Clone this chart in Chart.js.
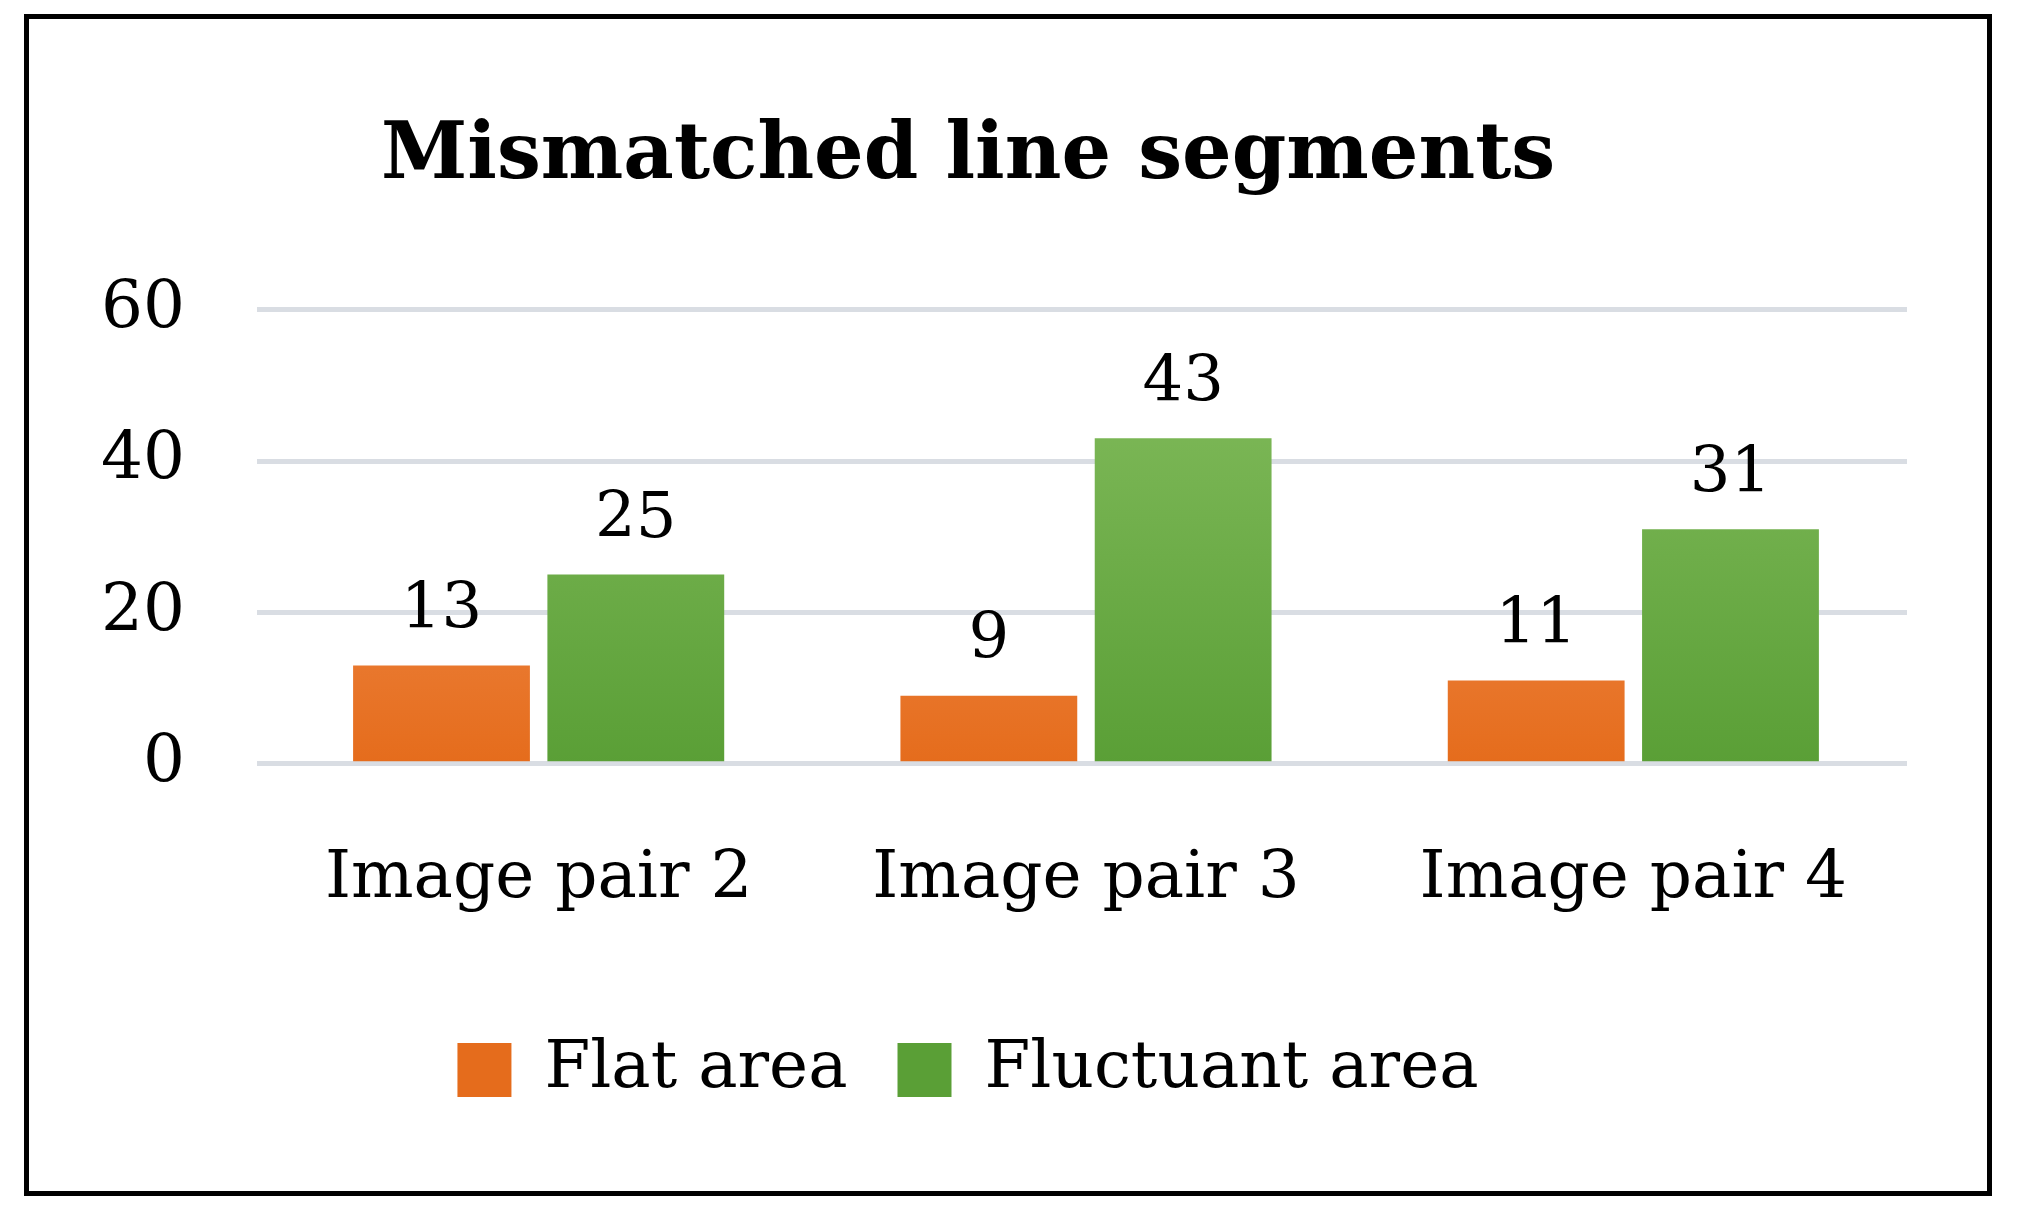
<!DOCTYPE html>
<html>
<head>
<meta charset="UTF-8">
<title>Mismatched line segments</title>
<style>
    body { margin: 0; background: #fff; }
    .frame {
        position: absolute; left: 24px; top: 14px; width: 1968px; height: 1182px;
        border: 5px solid #000; box-sizing: border-box; background: #fff;
    }
    .frame canvas { display: block; }
</style>
</head>
<body>
<div class="frame"><canvas id="chart" width="1958" height="1172"></canvas></div>
<script src="https://cdn.jsdelivr.net/npm/chart.js"></script>
<script>
const categories = ['Image pair 2', 'Image pair 3', 'Image pair 4'];
const flatArea = [13, 9, 11];
const fluctuantArea = [25, 43, 31];
const yTicks = [0, 20, 40, 60];

const serif = '"Palatino Linotype", "DejaVu Serif", "Liberation Serif", serif';

// vertical gradient over the plot area, lighter on top
function barGradient(top, bottom) {
    return function (context) {
        const area = context.chart.chartArea;
        if (!area) return bottom;
        const g = context.chart.ctx.createLinearGradient(0, area.top, 0, area.bottom);
        g.addColorStop(0, top);
        g.addColorStop(1, bottom);
        return g;
    };
}

// value labels above each bar
const valueLabels = {
    id: 'valueLabels',
    afterDatasetsDraw(chart) {
        const ctx = chart.ctx;
        ctx.save();
        ctx.font = '64px ' + serif;
        ctx.fillStyle = '#000';
        ctx.textAlign = 'center';
        ctx.textBaseline = 'bottom';
        chart.data.datasets.forEach((ds, i) => {
            chart.getDatasetMeta(i).data.forEach((bar, j) => {
                ctx.fillText(ds.data[j], bar.x, bar.y - 22);
            });
        });
        ctx.restore();
    }
};

new Chart(document.getElementById('chart'), {
    type: 'bar',
    data: {
        labels: categories,
        datasets: [
            {
                label: 'Flat area',
                data: flatArea,
                backgroundColor: barGradient('#f6a06a', '#e56c1c'),
                categoryPercentage: 0.71,
                barPercentage: 0.91
            },
            {
                label: 'Fluctuant area',
                data: fluctuantArea,
                backgroundColor: barGradient('#86be60', '#5a9f36'),
                categoryPercentage: 0.71,
                barPercentage: 0.91
            }
        ]
    },
    plugins: [valueLabels],
    options: {
        responsive: false,
        animation: false,
        layout: { padding: { left: 0, right: 80, top: 40, bottom: 78 } },
        plugins: {
            title: {
                display: true,
                text: 'Mismatched line segments',
                color: '#000',
                font: { family: serif, size: 78, weight: 'bold' },
                padding: { top: 52, bottom: 105 }
            },
            legend: {
                position: 'bottom',
                labels: {
                    color: '#000',
                    font: { family: serif, size: 66 },
                    boxWidth: 54,
                    boxHeight: 54,
                    padding: 50
                }
            },
            tooltip: { enabled: false }
        },
        scales: {
            x: {
                grid: { display: false },
                border: { display: false },
                ticks: { color: '#000', font: { family: serif, size: 66 }, padding: 68 }
            },
            y: {
                min: 0,
                max: 60,
                afterBuildTicks: axis => { axis.ticks = yTicks.map(v => ({ value: v })); },
                grid: { color: '#d9dde3', lineWidth: 5 },
                border: { display: false },
                ticks: { color: '#000', font: { family: serif, size: 66 }, padding: 72 }
            }
        }
    }
});
</script>
</body>
</html>
